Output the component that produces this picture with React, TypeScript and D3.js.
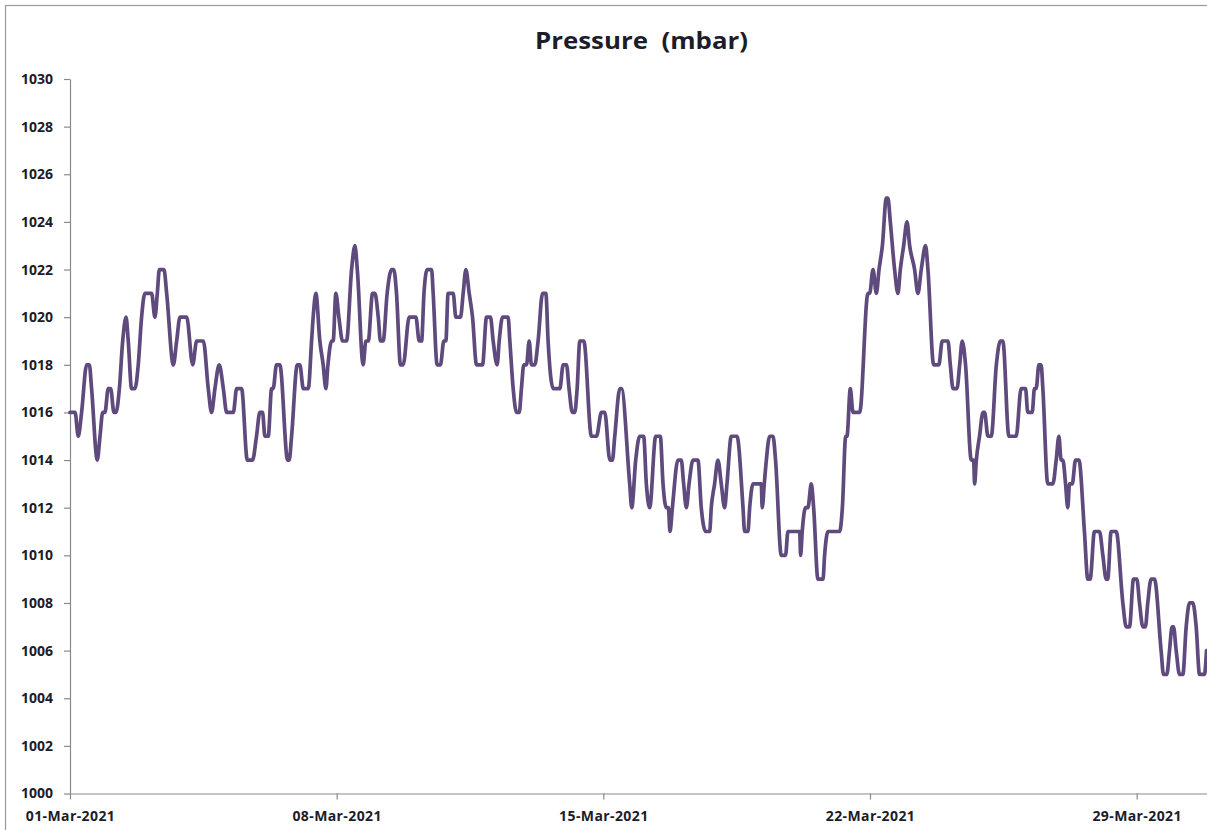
import { useEffect, useRef } from "react";
import * as d3 from "d3";

const TITLE = "Pressure  (mbar)";

// time axis: 01-Mar-2021 .. 31-Mar-2021, readings are hours since 01-Mar 00:00
const START = new Date(Date.UTC(2021, 2, 1));
const END = new Date(Date.UTC(2021, 2, 31));
const X_TICKS = ["2021-03-01", "2021-03-08", "2021-03-15", "2021-03-22", "2021-03-29"];
const Y_TICKS = [1000, 1002, 1004, 1006, 1008, 1010, 1012, 1014, 1016, 1018, 1020, 1022, 1024, 1026, 1028, 1030];

// [hour, mbar]
const week1: [number, number][] = [
  [0, 1016], [3.2, 1016], [5.2, 1015], [7.3, 1016], [10.5, 1018], [12.2, 1018], [13.6, 1017],
  [17.2, 1014], [18.9, 1015], [20.6, 1016], [22, 1016], [24.1, 1017], [25.6, 1017], [27.7, 1016],
  [29, 1016], [31.1, 1017], [33.2, 1019], [35.3, 1020], [36.7, 1019], [38.8, 1017], [40.9, 1017],
  [43, 1018], [45.1, 1020], [47.2, 1021], [51.4, 1021], [53.5, 1020], [55, 1021], [56.3, 1022],
  [59.2, 1022], [60.9, 1021], [65.1, 1018], [67.2, 1019], [69.3, 1020], [73.5, 1020], [77.3, 1018],
  [79.8, 1019], [84, 1019], [87.1, 1017], [89.2, 1016], [91.3, 1017], [94, 1018], [96.6, 1017],
  [98.7, 1016], [102.9, 1016], [105, 1017], [108.1, 1017], [111.7, 1014], [115, 1014], [117.5, 1015],
  [119.6, 1016], [121.3, 1016], [122.8, 1015], [124.9, 1015], [127, 1017], [128, 1017], [130.1, 1018],
  [132.2, 1018], [137.1, 1014], [138.1, 1014], [139.6, 1015], [143.2, 1018], [144.8, 1018], [147, 1017],
  [150.1, 1017], [152.2, 1019], [153.2, 1020], [154.9, 1021], [157.4, 1019], [159.5, 1018], [161.2, 1017],
  [162.5, 1018], [164.8, 1019], [165.8, 1019], [167.5, 1021],
];

const week2: [number, number][] = [
  [169.4, 1020], [171.7, 1019], [174.2, 1019], [177.4, 1022], [179.5, 1023], [181, 1022], [184.7, 1018],
  [186.4, 1019], [187.9, 1019], [190.6, 1021], [192.1, 1021], [194.2, 1020], [195.6, 1019], [197.3, 1019],
  [199.8, 1021], [202.6, 1022], [204, 1022], [205.7, 1021], [208.2, 1018], [209.9, 1018], [213.7, 1020],
  [217.9, 1020], [220, 1019], [221.5, 1019], [223, 1021], [225, 1022], [227.8, 1022], [228.8, 1021],
  [231.3, 1018], [233.4, 1018], [235.5, 1019], [236.8, 1019], [238.2, 1021], [241.4, 1021], [243.1, 1020],
  [246, 1020], [247.7, 1021], [249.4, 1022], [251.5, 1021], [253.6, 1020], [256.1, 1018], [259.9, 1018],
  [262.4, 1020], [264.9, 1020], [266.6, 1019], [269.1, 1018], [270.4, 1019], [272.5, 1020], [276, 1020],
  [277.1, 1019], [279.2, 1017], [281.3, 1016], [283, 1016], [284.4, 1017], [285.9, 1018], [287.6, 1018],
  [289.3, 1019], [290.7, 1018], [292.8, 1018], [294.9, 1019], [297.7, 1021], [299.8, 1021], [301.2, 1019],
  [304.4, 1017], [308.6, 1017], [310.7, 1018], [312.8, 1018], [314.4, 1017], [316.5, 1016], [318, 1016],
  [319.5, 1017], [321.2, 1019], [323.7, 1019], [328.5, 1015], [331.7, 1015], [334.8, 1016],
];

const week3: [number, number][] = [
  [336.9, 1016], [340.1, 1014], [341.7, 1014], [343.2, 1015], [346.4, 1017], [347.4, 1017], [352.6, 1013],
  [353.9, 1012], [356.4, 1014], [358.9, 1015], [361.4, 1015], [363.1, 1013], [365.2, 1012], [369, 1015],
  [371.9, 1015], [373.6, 1013], [375.7, 1012], [377, 1012], [378, 1011], [379.5, 1012], [383, 1014],
  [385.1, 1014], [386.6, 1013], [388.3, 1012], [390, 1013], [392.5, 1014], [395.6, 1014], [397.7, 1012],
  [400.5, 1011], [403, 1011], [404, 1012], [406.1, 1013], [408.2, 1014], [410.3, 1013], [412.4, 1012],
  [413.9, 1013], [416.6, 1015], [420.2, 1015], [424, 1012], [425, 1011], [427.1, 1011], [428.2, 1012],
  [430.3, 1013], [435.5, 1013], [436.1, 1012], [437.4, 1013], [438.7, 1014], [440.8, 1015], [442.9, 1015],
  [444.5, 1014], [448.1, 1010], [450.8, 1010], [452.3, 1011], [459.7, 1011], [460.3, 1010], [461.3, 1011],
  [463.4, 1012], [464.9, 1012], [467, 1013], [468.5, 1012], [471.2, 1009], [474.4, 1009], [475.4, 1010],
  [477.5, 1011], [484.9, 1011], [486.6, 1012], [488.7, 1015], [489.5, 1015], [491.6, 1017], [493.3, 1016],
  [497.5, 1016], [502.7, 1021], [503.8, 1021],
];

const week4: [number, number][] = [
  [505.9, 1022], [508, 1021], [509.7, 1022], [511.8, 1023], [514.3, 1025], [515.3, 1025], [516.8, 1024],
  [519.5, 1022], [521.6, 1021], [523.1, 1022], [525.2, 1023], [527.3, 1024], [529, 1023], [532.1, 1022],
  [534.2, 1021], [536.3, 1022], [539, 1023], [540.5, 1022], [544.1, 1018], [547.4, 1018], [549.5, 1019],
  [553.1, 1019], [554.6, 1018], [556.3, 1017], [558.8, 1017], [560.5, 1018], [562.1, 1019], [564.2, 1018],
  [567.8, 1014], [569.3, 1014], [569.9, 1013], [571, 1014], [573, 1015], [575.2, 1016], [576.2, 1016],
  [578.3, 1015], [580.4, 1015], [583.6, 1018], [586.1, 1019], [587.7, 1019], [591.5, 1015], [596.1, 1015],
  [599.2, 1017], [602, 1017], [603.4, 1016], [606.2, 1016], [607.6, 1017], [608.7, 1017], [610.4, 1018],
  [611.8, 1018], [612.9, 1017], [616, 1013], [619.2, 1013], [621.3, 1014], [623, 1015], [624.4, 1014],
  [625.5, 1014], [627.2, 1013], [628.6, 1012], [629.7, 1013], [631.4, 1013], [633.5, 1014], [635.6, 1014],
  [639.1, 1011], [641.2, 1009], [642.7, 1009], [645.4, 1011], [648.6, 1011], [650.7, 1010], [652.8, 1009],
  [653.8, 1009], [655.9, 1011], [659.1, 1011], [663.3, 1008], [665.4, 1007], [667.5, 1007], [670, 1009],
  [672.1, 1009],
];

const week5: [number, number][] = [
  [673.8, 1008], [675.9, 1007], [677.5, 1007], [679, 1008], [681.1, 1009], [683.2, 1009], [687.4, 1006],
  [688.9, 1005], [691, 1005], [692.7, 1006], [694.3, 1007], [695.2, 1007], [696.9, 1006], [699, 1005],
  [701.1, 1005], [703.2, 1007], [705.3, 1008], [707.4, 1008], [709.5, 1007], [711.6, 1005], [714.7, 1005],
  [716, 1006],
];

const WIDTH = 1207;
const HEIGHT = 830;
const FONT = "'Open Sans', 'DejaVu Sans', sans-serif";
const TEXT_COLOR = "#1c1c2a";
const AXIS_COLOR = "#8a8a8a";
const LINE_COLOR = "#5f4a7d";

const App = () => {
  const svgRef = useRef<SVGSVGElement>(null);

  useEffect(() => {
    if (!svgRef.current) return;
    const svg = d3.select(svgRef.current);
    svg.selectAll("*").remove();

    const plot = { left: 70, top: 79, bottom: 793.5 };
    const dayWidth = 38.095;

    const x = d3
      .scaleUtc()
      .domain([START, END])
      .range([plot.left, plot.left + 30 * dayWidth]);

    const y = d3.scaleLinear().domain([1000, 1030]).range([plot.bottom, plot.top]);

    // moldura do gráfico (cortada à direita/embaixo como no print)
    svg
      .append("rect")
      .attr("x", 5.5)
      .attr("y", 5.5)
      .attr("width", WIDTH + 20)
      .attr("height", HEIGHT + 20)
      .attr("fill", "white")
      .attr("stroke", "#9a9a9a")
      .attr("stroke-width", 1.2);

    // título
    svg
      .append("text")
      .attr("x", 641.5)
      .attr("y", 48.5)
      .attr("text-anchor", "middle")
      .attr("textLength", 213)
      .attr("lengthAdjust", "spacingAndGlyphs")
      .style("white-space", "pre")
      .style("font-family", FONT)
      .style("font-weight", "700")
      .style("font-size", "23.5px")
      .attr("fill", TEXT_COLOR)
      .text(TITLE);

    // eixo y
    const yAxis = svg
      .append("g")
      .attr("transform", `translate(${plot.left},0)`)
      .call(
        d3
          .axisLeft(y)
          .tickValues(Y_TICKS)
          .tickSize(6)
          .tickSizeOuter(0)
          .tickPadding(11)
          .tickFormat((d) => String(d))
      );

    // eixo x
    const tickDates = X_TICKS.map((s) => new Date(s + "T00:00:00Z"));
    const xAxis = svg
      .append("g")
      .attr("transform", `translate(0,${plot.bottom})`)
      .call(
        d3
          .axisBottom(x)
          .tickValues(tickDates)
          .tickSize(6)
          .tickSizeOuter(0)
          .tickPadding(12)
          .tickFormat((d) => d3.utcFormat("%d-%b-%Y")(d as Date))
      );

    [yAxis, xAxis].forEach((ax) => {
      ax.select(".domain").attr("stroke", AXIS_COLOR).attr("stroke-width", 1.2);
      ax.selectAll(".tick line").attr("stroke", AXIS_COLOR).attr("stroke-width", 1.2);
      ax.selectAll(".tick text")
        .attr("fill", TEXT_COLOR)
        .style("font-family", FONT)
        .style("font-weight", "700")
        .style("font-size", "14px");
    });
    xAxis.selectAll(".tick text").style("letter-spacing", "0.4px");

    // linha de pressão
    const readings = [...week1, ...week2, ...week3, ...week4, ...week5];
    const line = d3
      .line<[number, number]>()
      .x((d) => x(START.getTime() + d[0] * 3600 * 1000))
      .y((d) => y(d[1]))
      .curve(d3.curveMonotoneX);

    svg
      .append("path")
      .datum(readings)
      .attr("fill", "none")
      .attr("stroke", LINE_COLOR)
      .attr("stroke-width", 3.7)
      .attr("stroke-linejoin", "round")
      .attr("stroke-linecap", "round")
      .attr("d", line);
  }, []);

  return (
    <div style={{ position: "absolute", left: 0, top: 0 }}>
      <svg ref={svgRef} width={WIDTH} height={HEIGHT} style={{ display: "block" }} />
    </div>
  );
};

export default App;
